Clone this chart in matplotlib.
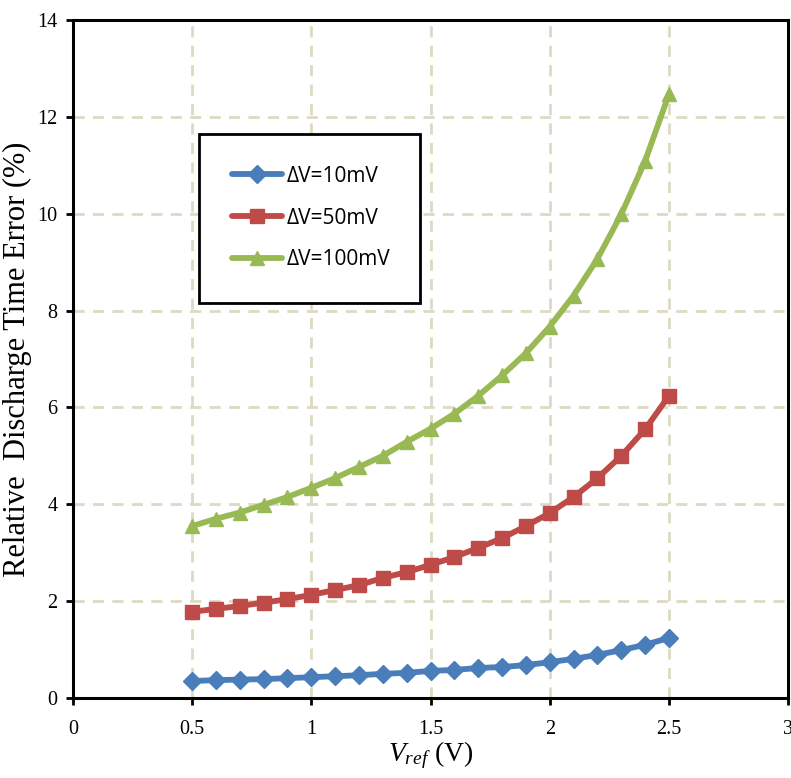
import matplotlib
matplotlib.use("Agg")
import matplotlib.pyplot as plt
from matplotlib.patches import Rectangle

plt.rcParams["mathtext.fontset"] = "custom"
plt.rcParams["mathtext.it"] = "Liberation Serif:italic"
plt.rcParams["mathtext.rm"] = "Liberation Serif"

vref = [0.5, 0.6, 0.7, 0.8, 0.9, 1.0, 1.1, 1.2, 1.3, 1.4, 1.5,
        1.6, 1.7, 1.8, 1.9, 2.0, 2.1, 2.2, 2.3, 2.4, 2.5]
err_10mV = [0.35, 0.37, 0.38, 0.39, 0.41, 0.43, 0.45, 0.47, 0.50, 0.52, 0.56,
            0.58, 0.62, 0.64, 0.68, 0.74, 0.81, 0.89, 0.99, 1.10, 1.24]
err_50mV = [1.78, 1.84, 1.90, 1.97, 2.04, 2.13, 2.23, 2.33, 2.48, 2.60, 2.75,
            2.91, 3.10, 3.30, 3.55, 3.82, 4.15, 4.54, 5.00, 5.55, 6.24]
err_100mV = [3.55, 3.70, 3.83, 3.99, 4.15, 4.34, 4.54, 4.77, 5.00, 5.29, 5.56,
             5.87, 6.24, 6.66, 7.12, 7.67, 8.31, 9.07, 9.99, 11.09, 12.47]
labels = ["ΔV=10mV", "ΔV=50mV", "ΔV=100mV"]
colors = ["#4A7EBB", "#BE4B48", "#98B954"]
markers = ["D", "s", "^"]
msizes = [9, 10, 10]

xticks = [0, 0.5, 1, 1.5, 2, 2.5, 3]
xticklabels = ["0", "0.5", "1", "1.5", "2", "2.5", "3"]
yticks = [0, 2, 4, 6, 8, 10, 12, 14]

fig = plt.figure(figsize=(7.91, 7.78), dpi=100)
ax = fig.add_axes([0.092, 0.1028, 0.9045, 0.8715])

for ys, lab, c, m, ms in zip([err_10mV, err_50mV, err_100mV], labels, colors, markers, msizes):
    ax.plot(vref, ys, color=c, lw=4.2, marker=m, ms=ms, mfc=c, mec=c, label=lab,
            solid_capstyle="round", zorder=3)

ax.set_xlim(0, 3)
ax.set_ylim(0, 14)
ax.set_xticks(xticks)
ax.set_xticklabels(xticklabels)
ax.set_yticks(yticks)
ax.grid(True, color="#DDD9C3", ls=(0, (4, 3)), lw=2)
ax.set_axisbelow(True)
for s in ax.spines.values():
    s.set_linewidth(2.2)
    s.set_color("black")
ax.tick_params(axis="both", direction="out", length=5, width=2,
               labelsize=14.5, pad=6)
for lbl in ax.get_xticklabels() + ax.get_yticklabels():
    lbl.set_fontfamily("Liberation Serif")
ax.tick_params(axis="x", pad=11)

ax.set_xlabel(r"$V_{ref}$ (V)", fontsize=20, family="Liberation Serif", labelpad=0)
ax.set_ylabel("Relative  Discharge Time Error (%)", fontsize=22,
              family="Liberation Serif", labelpad=4)

ax.add_patch(Rectangle((0.1765, 0.5826), 0.3085, 0.2494, transform=ax.transAxes,
                       fill=True, facecolor="white", edgecolor="black", lw=2, zorder=4))
leg = ax.legend(loc="upper left", bbox_to_anchor=(0.2226, 0.785), frameon=False,
                prop={"family": "Open Sans", "size": 15}, handlelength=2.4,
                handletextpad=0.2, labelspacing=1.0, borderpad=0, borderaxespad=0)
leg.set_zorder(5)

fig.savefig("out.png", dpi=100)
